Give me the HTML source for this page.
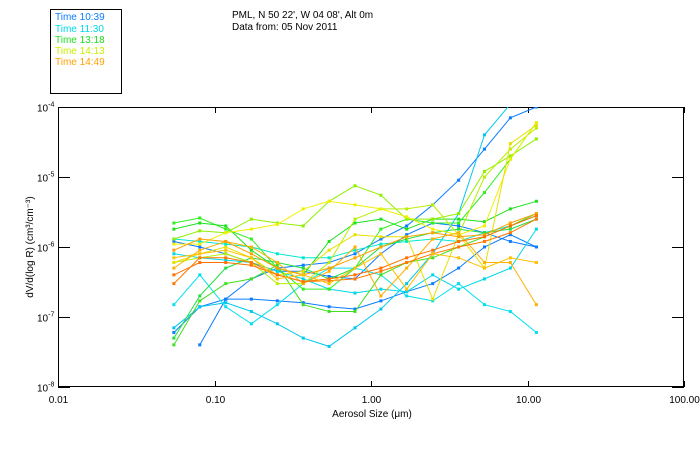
<!DOCTYPE html>
<html><head><meta charset="utf-8"><style>
body{margin:0;background:#fff;}
svg{display:block;font-family:"Liberation Sans",sans-serif;}
</style></head><body>
<svg id="chart" width="700" height="450" viewBox="0 0 700 450">
<rect x="0" y="0" width="700" height="450" fill="#fff"/>
<g>
<rect x="50.5" y="9.5" width="71" height="84" fill="none" stroke="#000"/>
<text x="55" y="20" font-size="10" fill="#0a7cff">Time 10:39</text>
<text x="55" y="32" font-size="10" fill="#00d8e8">Time 11:30</text>
<text x="55" y="43" font-size="10" fill="#20e020">Time 13:18</text>
<text x="55" y="54" font-size="10" fill="#c8f000">Time 14:13</text>
<text x="55" y="65" font-size="10" fill="#ffa000">Time 14:49</text>
</g>
<text x="232" y="18" font-size="10">PML, N 50 22', W 04 08', Alt 0m</text>
<text x="232" y="30" font-size="10">Data from: 05 Nov 2011</text>
<g id="axes"></g>
<g id="plot"></g>
<text x="372" y="417" font-size="10" text-anchor="middle">Aerosol Size (μm)</text>
<text transform="translate(33,247) rotate(-90)" font-size="10" text-anchor="middle">dV/d(log R) (cm³/cm⁻³)</text>
</svg>
<script>
const sizes=[0.055,0.0805,0.118,0.172,0.252,0.369,0.540,0.790,1.157,1.69,2.48,3.63,5.31,7.77,11.4];
const xTicks=[0.01,0.1,1,10,100];
const xTickLabels=["0.01","0.10","1.00","10.00","100.00"];
const yTicks=[1e-4,1e-5,1e-6,1e-7,1e-8];
const yTickExps=["-4","-5","-6","-7","-8"];
const seriesColors=["#0a7cff","#0a7cff","#0a7cff","#00c8f0","#00e0f0","#00d8e8","#00e8d0","#30f020","#20e020","#20e040","#40e020","#90f000","#b8f000","#f0f000","#e8e000","#ffb000","#ffa000","#ff7000","#ff7800","#ffc000"];
const s1=[null,4e-8,1.8e-7,3.5e-7,5e-7,5.5e-7,6e-7,8e-7,1.3e-6,2.0e-6,4e-6,9e-6,2.5e-5,7e-5,1e-4];
const s2=[6e-8,1.4e-7,1.8e-7,1.8e-7,1.7e-7,1.6e-7,1.4e-7,1.3e-7,1.7e-7,2.3e-7,3e-7,5e-7,1.0e-6,1.5e-6,1.0e-6];
const s3=[1.2e-6,1.0e-6,8e-7,6e-7,4.5e-7,4.5e-7,3.8e-7,3.5e-7,8e-7,1.5e-6,2.2e-6,2.0e-6,1.6e-6,1.2e-6,1.0e-6];
const s4=[7e-8,1.4e-7,1.6e-7,1.2e-7,8e-8,5e-8,3.8e-8,7e-8,1.3e-7,3e-7,8e-7,3e-6,4e-5,1.1e-4,null];
const s5=[1.5e-7,4e-7,1.4e-7,8e-8,1.5e-7,3e-7,5e-7,5e-7,4e-7,2e-7,1.7e-7,3e-7,1.5e-7,1.2e-7,6e-8];
const s6=[8e-7,7e-7,6.5e-7,6e-7,4.5e-7,3.5e-7,2.5e-7,2.2e-7,2.5e-7,2.3e-7,4e-7,2.5e-7,3.5e-7,5e-7,1.8e-6];
const s7=[1.3e-6,1.2e-6,1.1e-6,1.0e-6,8e-7,7e-7,7e-7,9e-7,1.1e-6,1.2e-6,1.3e-6,1.2e-6,1.6e-6,2e-6,2.8e-6];
const s8=[2.2e-6,2.6e-6,1.8e-6,1.3e-6,5e-7,2.5e-7,2.5e-7,5e-7,1.8e-6,2.5e-6,2.2e-6,2.2e-6,6e-6,1.8e-5,6e-5];
const s9=[1.8e-6,2.2e-6,2.0e-6,9e-7,5e-7,4e-7,1.2e-6,2.2e-6,2.5e-6,1.8e-6,2.5e-6,2.5e-6,2.3e-6,3.5e-6,4.5e-6];
const s10=[5e-8,2e-7,5e-7,7e-7,6e-7,5e-7,3.5e-7,5e-7,1.0e-6,1.3e-6,1.6e-6,1.8e-6,1.6e-6,1.8e-6,2.5e-6];
const s11=[4e-8,1.7e-7,3e-7,3.5e-7,5.5e-7,1.5e-7,1.2e-7,1.2e-7,4e-7,6e-7,7e-7,1e-6,1.4e-6,2e-6,3e-6];
const s12=[1.3e-6,1.7e-6,1.6e-6,2.5e-6,2.2e-6,2.0e-6,4.5e-6,7.5e-6,5.5e-6,2.5e-6,2.5e-6,3e-6,1.2e-5,2e-5,3.5e-5];
const s13=[6e-7,7e-7,8e-7,6e-7,3e-7,3e-7,6e-7,2.5e-6,3.5e-6,3.5e-6,4e-6,1.5e-6,1.0e-5,2.5e-5,5e-5];
const s14=[1.1e-6,1.1e-6,1.6e-6,1.8e-6,2.1e-6,3.5e-6,4.5e-6,4e-6,3.5e-6,2.7e-6,1.8e-6,1.5e-6,2e-6,1.8e-5,6e-5];
const s15=[6e-7,8e-7,1.0e-6,7e-7,4e-7,4.5e-7,9e-7,1.5e-6,1.4e-6,1.4e-6,1.8e-7,1.5e-6,5e-7,3e-5,5.5e-5];
const s16=[5e-7,9e-7,1.2e-6,1.0e-6,6e-7,3e-7,4.5e-7,1e-6,2e-7,5e-7,1.3e-6,1.6e-6,6e-7,6e-7,1.5e-7];
const s17=[9e-7,1.3e-6,1.2e-6,8e-7,5e-7,4e-7,5e-7,7e-7,1.0e-6,1.4e-6,1.6e-6,1.4e-6,1.5e-6,2.2e-6,3e-6];
const s18=[4e-7,6e-7,6e-7,5.5e-7,4e-7,3.2e-7,3.5e-7,4e-7,5e-7,7e-7,9e-7,1.2e-6,1.4e-6,2e-6,2.8e-6];
const s19=[3e-7,7e-7,7e-7,6e-7,4e-7,3.2e-7,3.3e-7,3.5e-7,4.5e-7,6e-7,8e-7,1.0e-6,1.2e-6,1.6e-6,2.5e-6];
const s20=[7e-7,8e-7,9e-7,7e-7,3.5e-7,4e-7,3e-7,5e-7,8e-7,2.5e-7,8e-7,7e-7,5e-7,7e-7,6e-7];
const allSeries=[s1,s2,s3,s4,s5,s6,s7,s8,s9,s10,s11,s12,s13,s14,s15,s16,s17,s18,s19,s20];

const L=58,R=684,T=107,B=387;
const NS="http://www.w3.org/2000/svg";
function xs(v){return L+(Math.log10(v)+2)/4*(R-L);}
function ys(v){return T+(-4-Math.log10(v))/4*(B-T);}
function mk(tag,attrs,parent){const e=document.createElementNS(NS,tag);for(const k in attrs)e.setAttribute(k,attrs[k]);parent.appendChild(e);return e;}
const plot=document.getElementById('plot');
const clip=mk('clipPath',{id:'clipP'},document.getElementById('chart'));
mk('rect',{x:L,y:T,width:R-L,height:B-T},clip);
plot.setAttribute('clip-path','url(#clipP)');
allSeries.forEach((s,i)=>{
  const g=mk('g',{},plot);
  
  
  let pts=[];
  s.forEach((v,j)=>{if(v!=null)pts.push(xs(sizes[j]).toFixed(1)+','+ys(v).toFixed(1));});
  const pl=mk('polyline',{points:pts.join(' '),fill:'none',stroke:seriesColors[i],'stroke-width':1},g);
  
  
  s.forEach((v,j)=>{if(v==null)return;
    const r=mk('rect',{x:xs(sizes[j])-1.5,y:ys(v)-1.5,width:3,height:3,fill:seriesColors[i]},g);
    
    
  });
});
const axes=document.getElementById('axes');
const frame=mk('rect',{x:L+0.5,y:T+0.5,width:R-L-1,height:B-T-1,fill:'none',stroke:'#000'},axes);


xTicks.forEach((t,i)=>{
  const x=Math.round(xs(t))+0.5;
  mk('line',{x1:x,y1:B,x2:x,y2:B-6,stroke:'#000'},axes);
  mk('line',{x1:x,y1:T,x2:x,y2:T+6,stroke:'#000'},axes);
  const tx=mk('text',{x:x,y:B+16,'font-size':10,'text-anchor':'middle'},axes);
  tx.textContent=xTickLabels[i];
  
  
});
yTicks.forEach((t,i)=>{
  const y=Math.round(ys(t))+0.5;
  mk('line',{x1:L,y1:y,x2:L+12,y2:y,stroke:'#000'},axes);
  mk('line',{x1:R,y1:y,x2:R-12,y2:y,stroke:'#000'},axes);
  const tx=mk('text',{x:37,y:y+4,'font-size':10},axes);
  tx.textContent='10';
  const sp=mk('tspan',{dy:-5,'font-size':7},tx);
  sp.textContent=yTickExps[i];
  
  
});
</script>
</body></html>
